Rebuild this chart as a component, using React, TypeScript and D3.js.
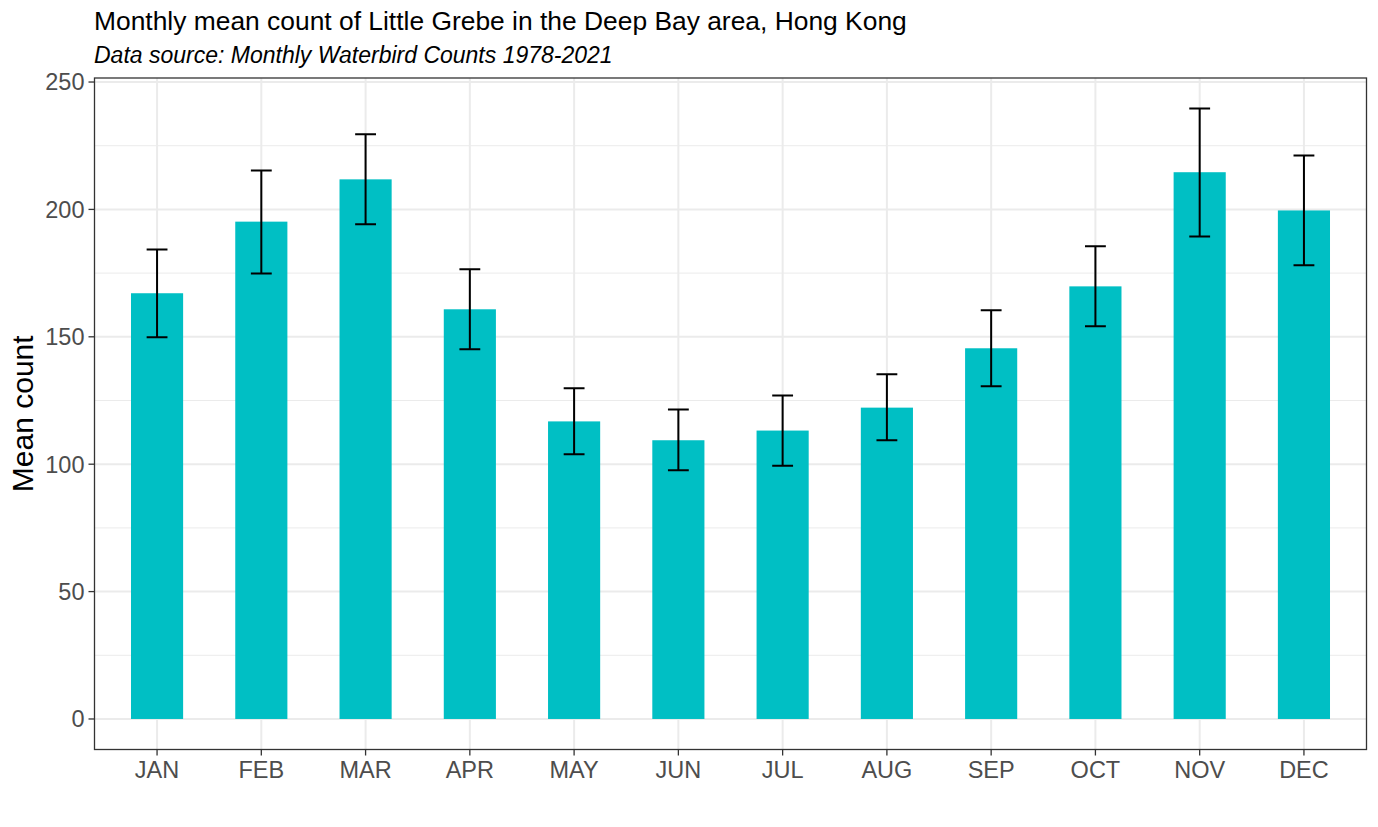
import * as d3 from "d3";
import { useEffect, useRef } from "react";

const months = ["JAN", "FEB", "MAR", "APR", "MAY", "JUN", "JUL", "AUG", "SEP", "OCT", "NOV", "DEC"];
const meanCount = [167.1, 195.2, 211.8, 160.8, 116.8, 109.4, 113.2, 122.2, 145.5, 169.8, 214.6, 199.6];
const lowerBound = [149.8, 174.8, 194.2, 145.1, 103.9, 97.6, 99.4, 109.4, 130.6, 154.1, 189.4, 178.1];
const upperBound = [184.3, 215.3, 229.5, 176.5, 129.8, 121.5, 127.0, 135.3, 160.4, 185.5, 239.6, 221.2];
const yTicks = [0, 50, 100, 150, 200, 250];
const yMinorTicks = [25, 75, 125, 175, 225];

const W = 1378, H = 827;
const FONT = "'Liberation Sans', Arial, sans-serif";

const App = () => {
    const ref = useRef<SVGSVGElement | null>(null);

    useEffect(() => {
        if (!ref.current) return;
        const svg = d3.select(ref.current);
        svg.selectAll("*").remove();

        const margin = { top: 78, right: 11.5, bottom: 77.5, left: 94.5 };
        const left = margin.left, right = W - margin.right;
        const top = margin.top, bottom = H - margin.bottom;

        const data = months.map((m, i) => ({ m, v: meanCount[i], lo: lowerBound[i], hi: upperBound[i] }));

        // ggplot style expansion: 5% on continuous, 0.6 units on discrete
        const ymax = d3.max(upperBound) ?? 250;
        const pad = ymax * 0.05;
        const y = d3.scaleLinear().domain([-pad, ymax + pad]).range([bottom, top]);
        const x = d3.scaleBand().domain(months).range([left, right]).paddingInner(0).paddingOuter(0.1);
        const cx = (m: string) => x(m)! + x.bandwidth() / 2;
        const step = x.step();

        svg.append("rect").attr("width", W).attr("height", H).attr("fill", "white");

        const grid = svg.append("g");
        grid.selectAll(".minor").data(yMinorTicks).join("line")
            .attr("x1", left).attr("x2", right)
            .attr("y1", d => y(d)).attr("y2", d => y(d))
            .attr("stroke", "#EBEBEB").attr("stroke-width", 1);
        grid.selectAll(".major").data(yTicks).join("line")
            .attr("x1", left).attr("x2", right)
            .attr("y1", d => y(d)).attr("y2", d => y(d))
            .attr("stroke", "#EBEBEB").attr("stroke-width", 2);
        grid.selectAll(".vmajor").data(months).join("line")
            .attr("x1", d => cx(d)).attr("x2", d => cx(d))
            .attr("y1", top).attr("y2", bottom)
            .attr("stroke", "#EBEBEB").attr("stroke-width", 2);

        // Bars
        svg.append("g").selectAll("rect").data(data).join("rect")
            .attr("x", d => cx(d.m) - step * 0.25)
            .attr("width", step * 0.5)
            .attr("y", d => y(d.v))
            .attr("height", d => y(0) - y(d.v))
            .attr("fill", "#00BFC4");

        // Error bars
        const eb = svg.append("g").attr("stroke", "black").attr("stroke-width", 2).attr("fill", "none");
        data.forEach(d => {
            const c = cx(d.m), hw = step * 0.1;
            eb.append("path")
                .attr("d", `M${c - hw},${y(d.hi)}H${c + hw}M${c},${y(d.hi)}V${y(d.lo)}M${c - hw},${y(d.lo)}H${c + hw}`);
        });

        // Panel border
        svg.append("rect")
            .attr("x", left).attr("y", top)
            .attr("width", right - left).attr("height", bottom - top)
            .attr("fill", "none").attr("stroke", "#333333").attr("stroke-width", 1.3);

        // Y axis
        const ya = svg.append("g");
        ya.selectAll("line").data(yTicks).join("line")
            .attr("x1", left - 6).attr("x2", left)
            .attr("y1", d => y(d)).attr("y2", d => y(d))
            .attr("stroke", "#333333").attr("stroke-width", 1.3);
        ya.selectAll("text").data(yTicks).join("text")
            .attr("x", left - 10).attr("y", d => y(d))
            .attr("dy", "0.36em")
            .attr("text-anchor", "end")
            .style("font-family", FONT).style("font-size", "23.5px").style("fill", "#4D4D4D")
            .text(d => d);

        // X axis
        const xa = svg.append("g");
        xa.selectAll("line").data(months).join("line")
            .attr("x1", d => cx(d)).attr("x2", d => cx(d))
            .attr("y1", bottom).attr("y2", bottom + 6)
            .attr("stroke", "#333333").attr("stroke-width", 1.3);
        xa.selectAll("text").data(months).join("text")
            .attr("x", d => cx(d)).attr("y", bottom + 28)
            .attr("text-anchor", "middle")
            .style("font-family", FONT).style("font-size", "23.5px").style("fill", "#4D4D4D")
            .text(d => d);

        // Axis title
        svg.append("text")
            .attr("transform", `translate(33,${(top + bottom) / 2}) rotate(-90)`)
            .attr("text-anchor", "middle")
            .style("font-family", FONT).style("font-size", "30px").style("fill", "black")
            .text("Mean count");

        // Titles
        svg.append("text")
            .attr("x", 94).attr("y", 30)
            .style("font-family", FONT).style("font-size", "26.4px").style("fill", "black")
            .text("Monthly mean count of Little Grebe in the Deep Bay area, Hong Kong");
        svg.append("text")
            .attr("x", 94).attr("y", 63)
            .style("font-family", FONT).style("font-size", "23px").style("font-style", "italic").style("fill", "black")
            .text("Data source: Monthly Waterbird Counts 1978-2021");
    }, []);

    return (
        <div style={{ position: "absolute", left: 0, top: 0 }}>
            <svg width={W} height={H} ref={ref} />
        </div>
    );
};

export default App;
